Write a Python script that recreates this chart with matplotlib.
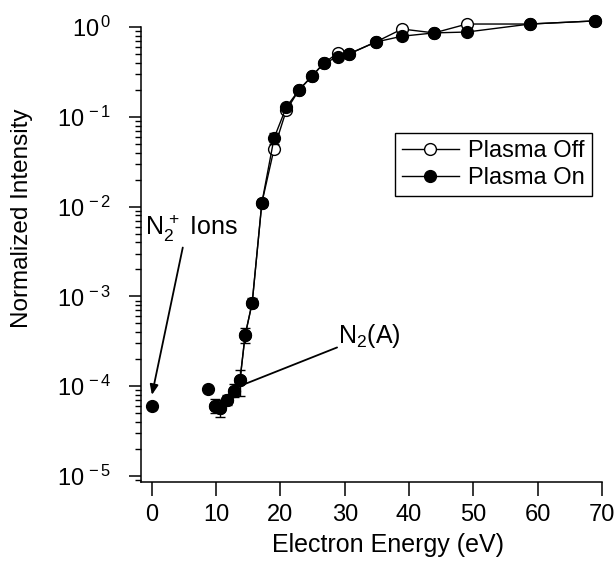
import numpy as np
import matplotlib
matplotlib.use('Agg')
import matplotlib.pyplot as plt
from matplotlib.ticker import LogLocator, FuncFormatter, NullFormatter

plt.rcParams['font.family'] = ['Liberation Sans', 'DejaVu Sans']
plt.rcParams['mathtext.fontset'] = 'custom'
plt.rcParams['mathtext.rm'] = 'Liberation Sans'
plt.rcParams['mathtext.it'] = 'Liberation Sans:italic'
plt.rcParams['mathtext.bf'] = 'Liberation Sans:bold'

# electron energy (eV)
energy = [9.8, 10.6, 11.7, 12.8, 13.7, 14.5, 15.6, 17.1, 19.0, 20.9, 22.9,
          24.9, 26.8, 28.9, 30.6, 34.8, 38.9, 43.9, 49.0, 58.8, 68.9]
plasma_off = [6.0e-5, 5.7e-5, 7.0e-5, 8.9e-5, 1.17e-4, 3.7e-4, 8.5e-4, 1.1e-2,
              0.044, 0.118, 0.20, 0.284, 0.40, 0.51, 0.50, 0.68, 0.95, 0.86,
              1.08, 1.08, 1.17]
plasma_on = [6.0e-5, 5.7e-5, 7.0e-5, 8.9e-5, 1.17e-4, 3.7e-4, 8.5e-4, 1.1e-2,
             0.058, 0.128, 0.20, 0.284, 0.40, 0.46, 0.50, 0.68, 0.79, 0.86,
             0.88, 1.08, 1.17]
# error bar ends (plasma on)
on_low = [5.0e-5, 4.5e-5, 6.2e-5, 7.5e-5, 7.8e-5, 3.0e-4, 7.6e-4, 1.0e-2,
          0.050, 0.12, 0.19, 0.27, 0.38, 0.44, 0.48, 0.66, 0.76, 0.84,
          0.86, 1.05, 1.14]
on_high = [7.2e-5, 7.0e-5, 8.0e-5, 1.05e-4, 1.5e-4, 4.5e-4, 9.6e-4, 1.2e-2,
           0.066, 0.136, 0.21, 0.30, 0.42, 0.48, 0.52, 0.70, 0.82, 0.88,
           0.90, 1.11, 1.20]

# isolated points: N2+ ions at 0 eV and the 9 eV point
single_x = [0.0, 8.7]
single_y = [6.0e-5, 9.3e-5]

fig = plt.figure(figsize=(6.14, 5.69), dpi=100)
ax = fig.add_axes([0.2296, 0.1529, 0.7508, 0.7996])

ax.plot(energy, plasma_off, color='black', lw=1.0, marker='o', ms=8.5,
        mfc='white', mec='black', mew=1.0, label='Plasma Off', clip_on=False, zorder=3)
err = [np.array(plasma_on) - np.array(on_low), np.array(on_high) - np.array(plasma_on)]
ax.errorbar(energy, plasma_on, yerr=err, fmt='none', ecolor='black',
            elinewidth=1.0, capsize=3.6, capthick=1.0, zorder=3.5)
ax.plot(energy, plasma_on, color='black', lw=1.0, marker='o', ms=8.5,
        mfc='black', mec='black', label='Plasma On', clip_on=False, zorder=4)
ax.plot(single_x, single_y, ls='none', marker='o', ms=8.5, color='black',
        clip_on=False, zorder=4)

ax.set_yscale('log')
ax.set_xlim(-1.7, 70)
ax.set_ylim(8.57e-6, 1.0)
ax.set_xticks(range(0, 71, 10))

ax.yaxis.set_major_locator(LogLocator(base=10, numticks=10))
ax.yaxis.set_minor_locator(LogLocator(base=10, subs=np.arange(2, 10), numticks=10))
ax.yaxis.set_minor_formatter(NullFormatter())
ax.yaxis.set_major_formatter(FuncFormatter(
    lambda v, p: r'$10^{\,%d}$' % int(round(np.log10(v)))))

for s in ['top', 'right']:
    ax.spines[s].set_visible(False)
for s in ['left', 'bottom']:
    ax.spines[s].set_linewidth(1.1)

ax.tick_params(axis='x', direction='out', length=10, width=1.1, pad=6, labelsize=17)
ax.tick_params(axis='y', which='major', direction='out', length=9, width=1.1,
               pad=12, labelsize=17)
ax.tick_params(axis='y', which='minor', direction='out', length=4.5, width=1.0)

ax.set_xlabel('Electron Energy (eV)', fontsize=18)
ax.set_ylabel('Normalized Intensity', fontsize=17.5)
ax.xaxis.set_label_coords(0.535, -0.112)
ax.yaxis.set_label_coords(-0.234, 0.58)

# annotations
ax.text(-1.1, 4.8e-3, r'N$_2^{\,+}$ Ions', fontsize=18, va='baseline', ha='left')
ax.annotate('', xy=(0.0, 8.0e-5), xytext=(4.8, 3.5e-3),
            arrowprops=dict(arrowstyle='-|>,head_length=0.6,head_width=0.25',
                            color='black', lw=1.3, shrinkA=0, shrinkB=0))
ax.text(28.9, 3.0e-4, r'N$_2$(A)', fontsize=18, va='baseline', ha='left')
ax.annotate('', xy=(14.5, 1.06e-4), xytext=(28.8, 2.7e-4),
            arrowprops=dict(arrowstyle='-', color='black', lw=1.3,
                            shrinkA=0, shrinkB=0))

leg = ax.legend(loc='upper right', bbox_to_anchor=(0.978, 0.767), fontsize=17,
                frameon=True, fancybox=False, edgecolor='black', framealpha=1,
                handlelength=2.4, handletextpad=0.4, borderpad=0.3,
                labelspacing=0.2, borderaxespad=0)
leg.get_frame().set_linewidth(1.0)

fig.savefig('out.png', dpi=100)
